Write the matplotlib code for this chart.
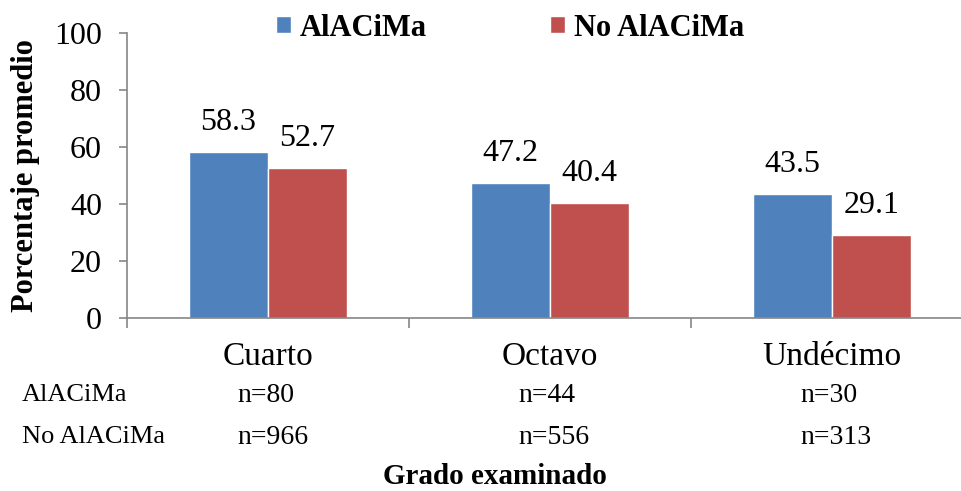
import matplotlib.pyplot as plt
import numpy as np
from matplotlib.transforms import blended_transform_factory

# Average percentage by grade, with sample sizes per group
grades = ["Cuarto", "Octavo", "Undécimo"]
alacima = [58.3, 47.2, 43.5]
no_alacima = [52.7, 40.4, 29.1]
n_alacima = ["n=80", "n=44", "n=30"]
n_no_alacima = ["n=966", "n=556", "n=313"]
series_names = ["AlACiMa", "No AlACiMa"]

BLUE = "#4F81BD"
RED = "#C0504D"
GRAY = "#868686"

plt.rcParams["font.family"] = ["Liberation Serif", "DejaVu Serif"]

fig = plt.figure(figsize=(9.61, 4.91), dpi=100)
ax = fig.add_axes([0.1322, 0.3523, 0.880, 0.5805])

x = np.arange(len(grades))
width = 0.28
b1 = ax.bar(x - width / 2, alacima, width, color=BLUE, edgecolor="white",
            linewidth=1.0, label=series_names[0])
b2 = ax.bar(x + width / 2, no_alacima, width, color=RED, edgecolor="white",
            linewidth=1.0, label=series_names[1])

for bars, vals in ((b1, alacima), (b2, no_alacima)):
    for rect, v in zip(bars, vals):
        ax.annotate(f"{v:.1f}", (rect.get_x() + rect.get_width() / 2, v),
                    xytext=(0, 11), textcoords="offset points",
                    ha="center", va="bottom", fontsize=23)

ax.set_ylim(0, 100)
ax.set_xlim(-0.5, 2.5)
ax.set_yticks([0, 20, 40, 60, 80, 100])
ax.tick_params(axis="y", labelsize=23, length=6, color=GRAY, width=1.2, pad=12)

# category labels without ticks, boundary ticks as minor
ax.set_xticks(x)
ax.set_xticklabels(grades, fontsize=24)
ax.tick_params(axis="x", which="major", length=0, pad=17)
ax.set_xticks([-0.5, 0.5, 1.5], minor=True)
ax.tick_params(axis="x", which="minor", length=7, color=GRAY, width=1.2)

for side in ("top", "right"):
    ax.spines[side].set_visible(False)
for side in ("left", "bottom"):
    ax.spines[side].set_color(GRAY)
    ax.spines[side].set_linewidth(1.2)

# sample size rows under the category labels
trans = blended_transform_factory(ax.transData, fig.transFigure)
for xi, n1, n2 in zip(x, n_alacima, n_no_alacima):
    ax.text(xi - 0.11, 1 - 395 / 491, n1, transform=trans, ha="left",
            va="center", fontsize=20)
    ax.text(xi - 0.11, 1 - 437 / 491, n2, transform=trans, ha="left",
            va="center", fontsize=20)
fig.text(22 / 961, 1 - 395 / 491, series_names[0], ha="left", va="center",
         fontsize=19)
fig.text(22 / 961, 1 - 437 / 491, series_names[1], ha="left", va="center",
         fontsize=19)

fig.text(495 / 961, 1 - 476 / 491, "Grado examinado", ha="center",
         va="center", fontsize=21, fontweight="bold")
fig.text(26 / 961, 1 - 176 / 491, "Porcentaje promedio", ha="center",
         va="center", rotation=90, fontsize=22, fontweight="bold")

fig.legend(handles=[b1, b2], loc="center", bbox_to_anchor=(510 / 961, 1 - 28 / 491),
           ncol=2, frameon=False, prop={"size": 22, "weight": "bold"},
           handlelength=0.5, handleheight=0.5, handletextpad=0.3,
           columnspacing=4.0)

fig.savefig("out.png", dpi=100)
